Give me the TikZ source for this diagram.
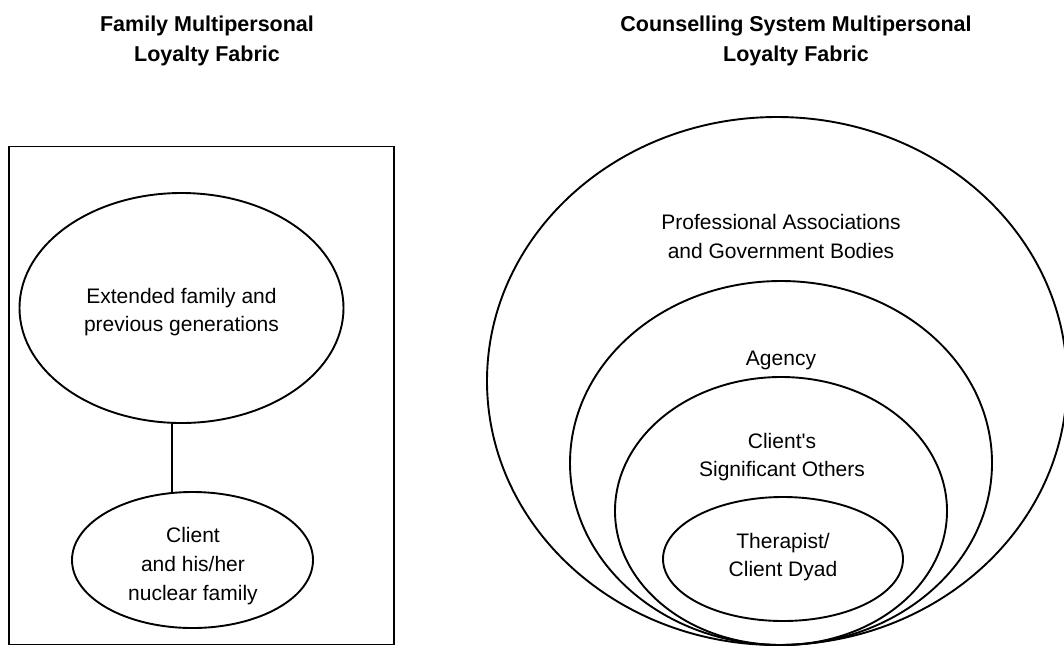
\documentclass[tikz,border=0pt]{standalone}
\usepackage{fontspec}
\setmainfont{Liberation Sans}
\usetikzlibrary{shapes.geometric}
\begin{document}
\begin{tikzpicture}[x=1pt,y=-1pt,
  oval/.style={draw, ellipse, line width=1.9pt, inner sep=0pt, outer sep=0pt},
  frame/.style={draw, line width=1.9pt, inner sep=0pt, outer sep=0pt},
  lbl/.style={align=center, inner sep=0pt, font=\fontsize{21}{28.7}\selectfont},
  ttl/.style={align=center, inner sep=0pt, font=\bfseries\fontsize{21.5}{30}\selectfont},
  link/.style={line width=1.9pt}]
\useasboundingbox (0,0) rectangle (1064,646);

% titles
\node[ttl] (tleft) at (207,41.3) {Family Multipersonal\\Loyalty Fabric};
\node[ttl] (tright) at (796,41.3) {Counselling System Multipersonal\\Loyalty Fabric};

% left panel
\node[frame, minimum width=385pt, minimum height=498pt] (box) at (201.5,395.5) {};
\node[oval, minimum width=324pt, minimum height=230pt] (ext) at (181.5,308) {};
\node[oval, minimum width=241pt, minimum height=136pt] (cli) at (192.5,560) {};
\node[lbl] (extlbl) at (181.5,312) {Extended family and\\previous generations};
\node[lbl] (clilbl) at (193,566) {Client\\and his/her\\nuclear family};
\draw[link] ([xshift=-9.5pt]ext.south) -- ([xshift=-9.5pt]ext.south |- cli.north);

% right panel
\node[oval, minimum width=580pt, minimum height=528pt] (prof) at (777,381) {};
\node[oval, minimum width=422pt, minimum height=364pt] (agency) at (781,463) {};
\node[oval, minimum width=332pt, minimum height=268pt] (sig) at (781,511) {};
\node[oval, minimum width=240pt, minimum height=124pt] (dyad) at (783,559) {};
\node[lbl] (proflbl) at (781,236.5) {Professional Associations\\and Government Bodies};
\node[lbl] (agencylbl) at (781,360.7) {Agency};
\node[lbl] (siglbl) at (782,457) {Client\textquotesingle s\\Significant Others};
\node[lbl] (dyadlbl) at (783,557) {Therapist/\\Client Dyad};
\end{tikzpicture}
\end{document}
